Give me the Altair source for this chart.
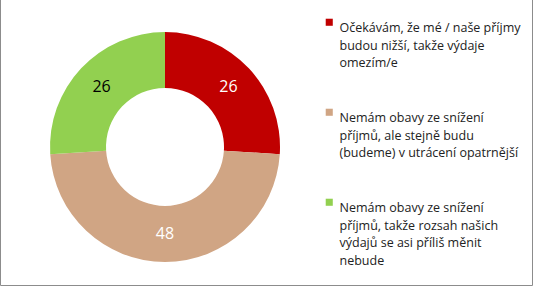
import altair as alt
import pandas as pd

categories = [
    "Očekávám, že mé / naše příjmy\nbudou nižší, takže výdaje\nomezím/e",
    "Nemám obavy ze snížení\npříjmů, ale stejně budu\n(budeme) v utrácení opatrnější",
    "Nemám obavy ze snížení\npříjmů, takže rozsah našich\nvýdajů se asi příliš měnit\nnebude",
]
values = [26, 48, 26]
colors = ["#C00000", "#D0A584", "#92D050"]
label_colors = ["#FFFFFF", "#FFFFFF", "#000000"]

df = pd.DataFrame({
    "cat": categories,
    "val": values,
    "order": [0, 1, 2],
    "lc": label_colors,
})

base = alt.Chart(df).encode(
    theta=alt.Theta("val:Q", stack=True),
    order=alt.Order("order:Q"),
)

arcs = base.mark_arc(innerRadius=59, outerRadius=115).encode(
    color=alt.Color(
        "cat:N",
        scale=alt.Scale(domain=categories, range=colors),
        sort=categories,
        legend=alt.Legend(
            title=None,
            orient="none",
            legendX=323,
            legendY=12,
            symbolType="square",
            symbolSize=50,
            symbolStrokeWidth=0,
            labelExpr="split(datum.label, '\\n')",
            labelBaseline="top",
            labelOffset=4,
            labelFont="Open Sans",
            labelFontSize=12.5,
            labelColor="#222222",
            labelLimit=300,
            rowPadding=36,
            symbolOffset=0,
        ),
    )
)

labels = base.mark_text(radius=87, font="Open Sans", fontSize=16).encode(
    text=alt.Text("val:Q"),
    color=alt.Color("lc:N", scale=None),
)

border = alt.Chart(pd.DataFrame({"a": [0]})).mark_rect(
    fill=None, stroke="#8C8C8C", strokeWidth=1
).encode(
    x=alt.value(0.5), x2=alt.value(532.5), y=alt.value(-5), y2=alt.value(281.5)
)

chart = alt.layer(arcs, labels, border).properties(
    width=330,
    height=286,
    autosize=alt.AutoSizeParams(type="none"),
    padding={"left": 0, "top": 4, "right": 204, "bottom": 0},
).configure(
    view=alt.ViewConfig(stroke=None),
    style={"guide-label": {"lineHeight": 17.5}},
)

chart.save("out.html", embed_options={"renderer": "svg", "actions": False})
